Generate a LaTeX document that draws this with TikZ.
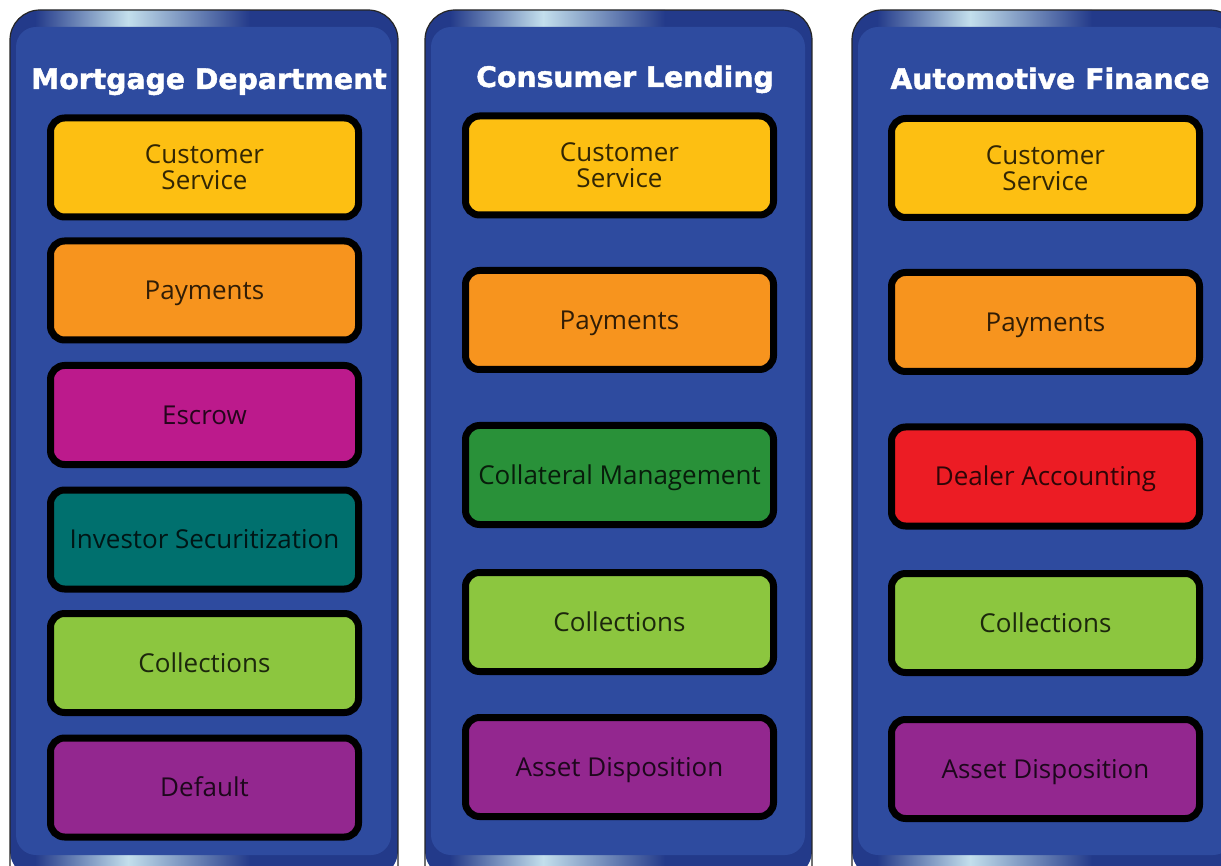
\documentclass[tikz,border=0pt]{standalone}
\usepackage{fontspec}
\setmainfont{Open Sans}
\newfontfamily\headfont{DejaVu Sans}[BoldFeatures={FakeBold=1.6}]

\definecolor{rimblue}{HTML}{233A8A}
\definecolor{bodyblue}{HTML}{2E4B9F}
\definecolor{glow}{HTML}{C3DFEC}
\definecolor{cyellow}{HTML}{FDBF12}
\definecolor{corange}{HTML}{F7941E}
\definecolor{cmagenta}{HTML}{BC1A8C}
\definecolor{cteal}{HTML}{00706E}
\definecolor{clime}{HTML}{8CC63F}
\definecolor{cpurple}{HTML}{93278F}
\definecolor{cgreen}{HTML}{299139}
\definecolor{cred}{HTML}{EC1C24}

\tikzset{
  title/.style={font=\headfont\bfseries\fontsize{28.3}{30}\selectfont, text=white,
    anchor=base, inner sep=0pt},
  dept/.style={draw=black, line width=7pt, rounded corners=14pt,
    minimum width=308pt, minimum height=99pt, inner sep=0pt,
    text=black, text opacity=0.8, align=center,
    font=\fontsize{26}{26}\selectfont},
  % single-line labels: centre the capitals in the box
  oneline/.style={text height=18.6pt, text depth=0pt},
}

% one department column: #1 left edge, #2 right edge
\newcommand\column[2]{%
  \begin{scope}
    \path[clip, rounded corners=30pt] (#1,10) rectangle (#2,880);
    \fill[rimblue] (#1,10) rectangle (#2,880);
    % light reflections on the upper and lower rims
    \shade[left color=rimblue, right color=glow] (#1+25,8) rectangle (#1+118,30);
    \shade[left color=glow, right color=rimblue] (#1+118,8) rectangle (#1+240,30);
    \shade[left color=rimblue, right color=glow] (#1+25,850) rectangle (#1+118,870);
    \shade[left color=glow, right color=rimblue] (#1+118,850) rectangle (#1+240,870);
    \fill[bodyblue, rounded corners=20pt] (#1+6,27) rectangle (#2-7,855);
  \end{scope}
  \draw[black!85, line width=1.2pt, rounded corners=30pt] (#1,880) -- (#1,10) -- (#2,10) -- (#2,880);
}

\newcommand\deptbox[5]{\node[dept, oneline, fill=#4] (#1) at (#2,#3) {#5};}
\newcommand\twolinebox[5]{\node[dept, fill=#4] (#1) at (#2,#3) {#5};}

\begin{document}
\begin{tikzpicture}[x=1pt, y=-1pt]
  \useasboundingbox (0,0) rectangle (1221,866);
  \clip (0,0) rectangle (1221,866);

  \column{10}{398}
  \column{425}{812}
  \column{852}{1240}

  % Mortgage Department
  \node[title] (t1) at (209,89) {Mortgage Department};
  \twolinebox{m1}{204.5}{167.5}{cyellow}{Customer\\Service}
  \deptbox{m2}{204.5}{290.5}{corange}{Payments}
  \deptbox{m3}{204.5}{415}{cmagenta}{Escrow}
  \deptbox{m4}{204.5}{539.5}{cteal}{Investor Securitization}
  \deptbox{m5}{204.5}{663}{clime}{Collections}
  \deptbox{m6}{204.5}{787.5}{cpurple}{Default}

  % Consumer Lending
  \node[title] (t2) at (625,87) {Consumer Lending};
  \twolinebox{c1}{619.5}{165.5}{cyellow}{Customer\\Service}
  \deptbox{c2}{619.5}{320}{corange}{Payments}
  \deptbox{c3}{619.5}{475}{cgreen}{Collateral Management}
  \deptbox{c4}{619.5}{622}{clime}{Collections}
  \deptbox{c5}{619.5}{767}{cpurple}{Asset Disposition}

  % Automotive Finance
  \node[title] (t3) at (1050,89) {Automotive Finance};
  \twolinebox{a1}{1045.5}{168}{cyellow}{Customer\\Service}
  \deptbox{a2}{1045.5}{322}{corange}{Payments}
  \deptbox{a3}{1045.5}{476.5}{cred}{Dealer Accounting}
  \deptbox{a4}{1045.5}{623}{clime}{Collections}
  \deptbox{a5}{1045.5}{769}{cpurple}{Asset Disposition}
\end{tikzpicture}
\end{document}
